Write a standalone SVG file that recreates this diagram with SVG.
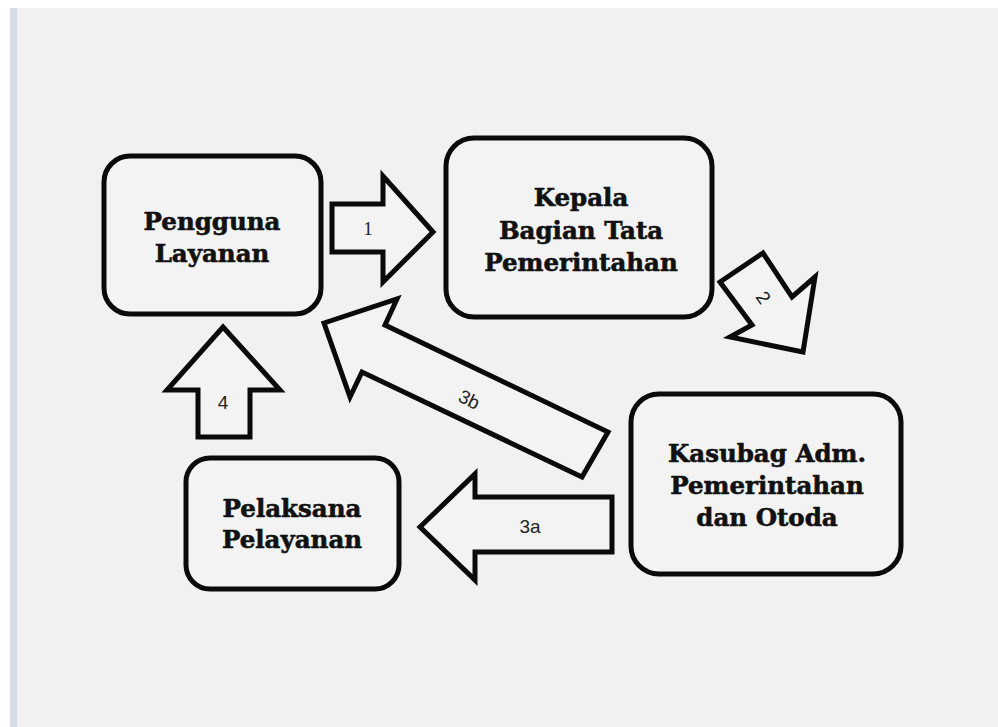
<svg xmlns="http://www.w3.org/2000/svg" width="998" height="727" viewBox="0 0 998 727">
<style>
.box{fill:#f3f3f3;stroke:#0a0a0a;stroke-width:5}
.arr{fill:#f3f3f3;stroke:#0a0a0a;stroke-width:5;stroke-linejoin:miter}
.t{font-family:"DejaVu Serif","Liberation Serif",serif;font-weight:bold;font-size:24.5px;fill:#111;stroke:#111;stroke-width:0.6;text-anchor:middle}
.n{font-family:"Liberation Sans",Arial,sans-serif;font-size:19px;fill:#222;text-anchor:middle}
.ns{font-family:"Liberation Serif",serif;font-size:19px;fill:#222;text-anchor:middle}
</style>
<rect x="0" y="0" width="998" height="727" fill="#ffffff"/>
<rect x="10" y="8" width="988" height="719" fill="#f1f1f1"/>
<rect x="10" y="8" width="7" height="719" fill="#d8dde3"/>
<g id="connectors">
<g id="arrow1"><polygon class="arr" points="332,204 383,204 383,176 433,232 383,282 383,252 332,252"/><text class="ns" x="368" y="235">1</text></g>
<g id="arrow2"><polygon class="arr" points="720,282 763,253 792,297 815,277 803,352 730,337 752,325"/><text class="n" transform="translate(763,298) rotate(55)" x="0" y="6">2</text></g>
<g id="arrow3b"><polygon class="arr" points="324,323 397,299 385,325 608,432 582,477 362,372 350,397"/><text class="n" transform="translate(469,400) rotate(26)" x="0" y="6">3b</text></g>
<g id="arrow3a"><polygon class="arr" points="420,527 475,474 475,497 612,497 612,552 475,552 475,580"/><text class="n" x="530" y="533">3a</text></g>
<g id="arrow4"><polygon class="arr" points="223,327 280,390 250,390 250,437 198,437 198,390 167,390"/><text class="n" x="223" y="409">4</text></g>
</g>
<g id="pengguna"><rect class="box" x="104" y="156" width="217" height="158" rx="26"/><text class="t" x="212" y="230">Pengguna</text><text class="t" x="212" y="262">Layanan</text></g>
<g id="kepala"><rect class="box" x="446" y="138" width="266" height="179" rx="28"/><text class="t" x="581" y="206">Kepala</text><text class="t" x="581" y="239">Bagian Tata</text><text class="t" x="581" y="271">Pemerintahan</text></g>
<g id="kasubag"><rect class="box" x="631" y="394" width="270" height="180" rx="28"/><text class="t" x="767" y="462">Kasubag Adm.</text><text class="t" x="767" y="494">Pemerintahan</text><text class="t" x="767" y="526">dan Otoda</text></g>
<g id="pelaksana"><rect class="box" x="186" y="458" width="213" height="131" rx="24"/><text class="t" x="292" y="517">Pelaksana</text><text class="t" x="292" y="548">Pelayanan</text></g>
</svg>
